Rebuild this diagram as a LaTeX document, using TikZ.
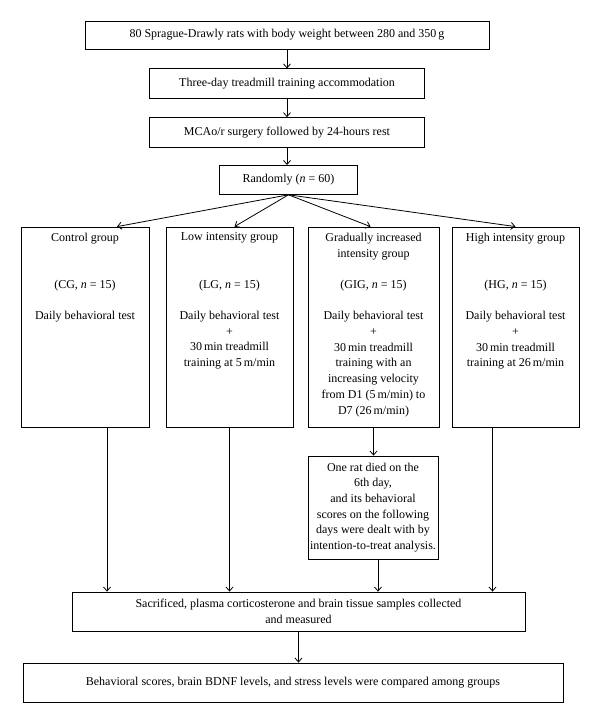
\documentclass[tikz,border=0pt]{standalone}
\usepackage{fontspec}
\setmainfont{Liberation Serif}
\usepackage{tikz}
\usetikzlibrary{arrows.meta}
\usetikzlibrary{positioning}
\newcommand\grptext[2]{\parbox[c][200pt][t]{#1pt}{\centering\vspace*{6pt}#2}}
\newcommand\grpnode[4][]{%
  \node[grp,#1] (#3) {\grptext{#2}{#4}};
}

\begin{document}
\begin{tikzpicture}[x=1pt, y=-1pt, >={Straight Barb[length=4pt,width=7pt]},
node distance=19pt,
box/.style={
  draw,
  line width=0.8pt,
  inner sep=0pt,
  align=center,
  font=\fontsize{12pt}{15.7pt}\selectfont},
grp/.style={
  draw,
  line width=0.8pt,
  inner sep=0pt,
  font=\fontsize{12pt}{15.7pt}\selectfont}
]
\useasboundingbox (0,0) rectangle (600,723);
\node[box, minimum width=404pt, minimum height=28pt] (rats) at (287,35) {80 Sprague-Drawly rats with body weight between 280 and 350\,g};
\node[box, minimum width=275pt, minimum height=30pt, below=19pt of rats] (train) {Three-day treadmill training accommodation};
\node[box, minimum width=275pt, minimum height=30pt, below=18pt of train] (surg) {MCAo/r surgery followed by 24-hours rest};
\node[box, minimum width=138pt, minimum height=29pt, below=17pt of surg, xshift=1.5pt] (rand) {Randomly (\textit{n} = 60)};

\grpnode[at={(85,327)}]{128}{cg}{Control group\\ ~\\ ~\\ (CG, \textit{n} = 15)\\ ~\\ Daily behavioral test}
\grpnode[at={(229.5,327)}]{127}{lg}{Low intensity group\\ ~\\ ~\\ (LG, \textit{n} = 15)\\ ~\\ Daily behavioral test\\ +\\ 30\,min treadmill\\ training at 5\,m/min}
\grpnode[at={(373.5,327)}]{131}{gig}{Gradually increased\\ intensity group\\ ~\\ (GIG, \textit{n} = 15)\\ ~\\ Daily behavioral test\\ +\\ 30\,min treadmill\\ training with an\\ increasing velocity\\ from D1 (5\,m/min) to\\ D7 (26\,m/min)}
\grpnode[at={(515.5,327)}]{127}{hg}{High intensity group\\ ~\\ ~\\ (HG, \textit{n} = 15)\\ ~\\ Daily behavioral test\\ +\\ 30\,min treadmill\\ training at 26\,m/min}

\node[box, minimum width=130pt, minimum height=103pt] (dead) at (373,507.5) {One rat died on the\\ 6th day,\\ and its behavioral\\ scores on the following\\ days were dealt with by\\ intention-to-treat analysis.};
\node[box, minimum width=453pt, minimum height=39pt] (sac) at (298.5,611.5) {Sacrificed, plasma corticosterone and brain tissue samples collected\\ and measured};
\node[box, minimum width=540pt, minimum height=39pt] (comp) at (293,682.5) {Behavioral scores, brain BDNF levels, and stress levels were compared among groups};

\coordinate (cgdown) at ([xshift=22pt]cg.south);
\coordinate (deaddown) at ([xshift=5pt]dead.south);
\coordinate (hgdown) at ([xshift=-23pt]hg.south);

\draw [->, line width=0.8pt] (rats.south) -- (rats.south |- train.north);
\draw [->, line width=0.8pt] (train.south) -- (train.south |- surg.north);
\draw [->, line width=0.8pt] (surg.south) -- (surg.south |- rand.north);
\draw [->, line width=0.8pt] (rand.south) -- ([xshift=32pt]cg.north);
\draw [->, line width=0.8pt] (rand.south) -- ([xshift=5pt]lg.north);
\draw [->, line width=0.8pt] (rand.south) -- ([xshift=-3pt]gig.north);
\draw [->, line width=0.8pt] (rand.south) -- (hg.north);
\draw [->, line width=0.8pt] (cgdown) -- (cgdown |- sac.north);
\draw [->, line width=0.8pt] (lg.south) -- (lg.south |- sac.north);
\draw [->, line width=0.8pt] (gig.south) -- (gig.south |- dead.north);
\draw [->, line width=0.8pt] (deaddown) -- (deaddown |- sac.north);
\draw [->, line width=0.8pt] (hgdown) -- (hgdown |- sac.north);
\draw [->, line width=0.8pt] (sac.south) -- (sac.south |- comp.north);
\end{tikzpicture}
\end{document}
